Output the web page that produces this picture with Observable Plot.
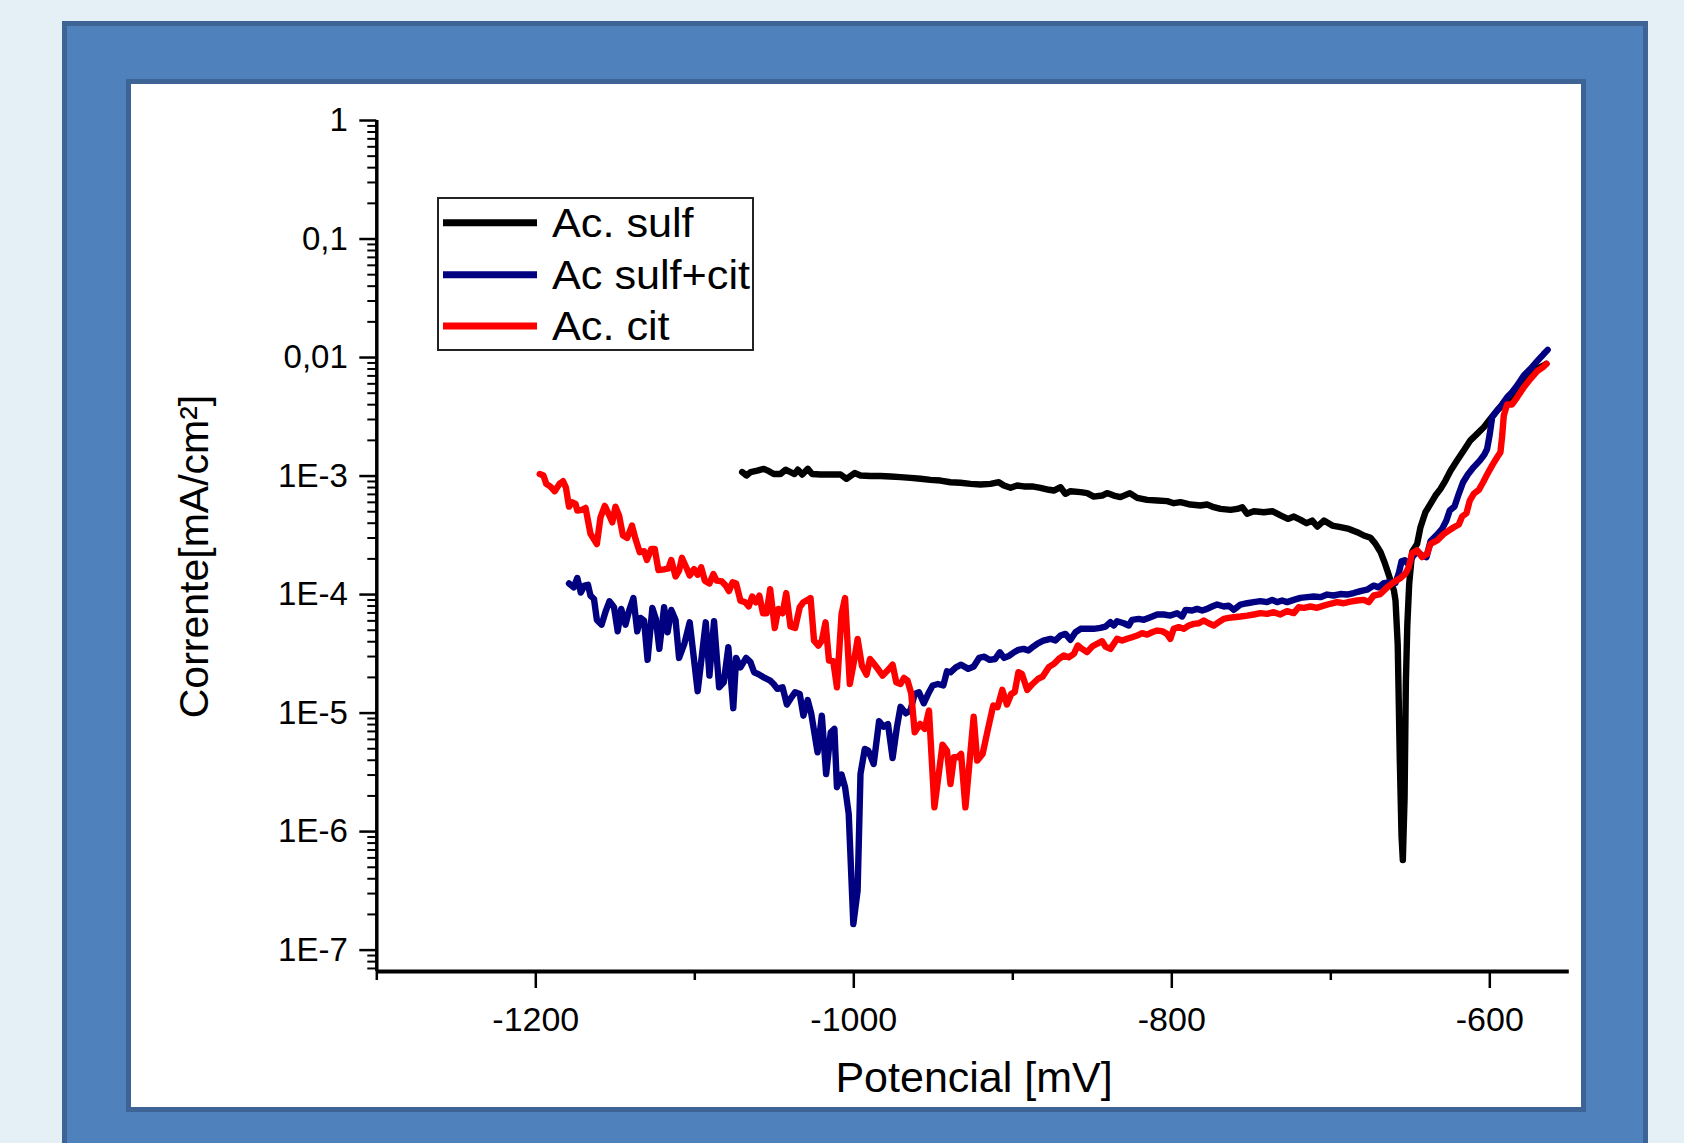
<!DOCTYPE html>
<html><head><meta charset="utf-8">
<script src="https://cdn.jsdelivr.net/npm/d3@7"></script>
<script src="https://cdn.jsdelivr.net/npm/@observablehq/plot@0.6"></script>
<style>
html,body{margin:0;padding:0;width:1684px;height:1143px;overflow:hidden;background:#e4f0f6;font-family:"Liberation Sans",Arial,sans-serif;}
#frame{position:absolute;left:62px;top:21px;width:1586px;height:1200px;box-sizing:border-box;background:#4f81bd;border:5px solid #3d6494;}
#panel{position:absolute;left:126px;top:79px;width:1460px;height:1033px;box-sizing:border-box;background:#fff;border:5px solid #3d6494;}
#chart{position:absolute;left:131px;top:84px;}
#legend{position:absolute;left:437px;top:197px;}
</style></head>
<body>
<div id="frame"></div>
<div id="panel"></div>
<div id="chart"></div>
<script>
// ---- data: potential [mV], current [mA/cm²] ----
const seriesNames = ["Ac. sulf", "Ac sulf+cit", "Ac. cit"];
const seriesColors = ["#000000", "#000080", "#ff0000"];

const acSulf = [[-1070.2,1.08e-3],[-1067.5,1.01e-3],[-1064.9,1.08e-3],[-1060.7,1.11e-3],[-1056.6,1.15e-3],[-1053.4,1.10e-3],[-1050.3,1.04e-3],[-1046.1,1.04e-3],[-1042.9,1.13e-3],[-1039.8,1.08e-3],[-1037.3,1.04e-3],[-1035.2,1.13e-3],[-1032.4,1.03e-3],[-1028.9,1.15e-3],[-1026.2,1.04e-3],[-1020.9,1.03e-3],[-1014.6,1.03e-3],[-1008.3,1.03e-3],[-1004.6,9.48e-4],[-999.5,1.06e-3],[-995.8,1.01e-3],[-989.5,1.00e-3],[-983.2,1.00e-3],[-976.9,9.91e-4],[-970.6,9.79e-4],[-964.3,9.66e-4],[-958.0,9.48e-4],[-951.8,9.29e-4],[-945.5,9.16e-4],[-939.2,8.87e-4],[-932.9,8.77e-4],[-926.6,8.59e-4],[-920.3,8.49e-4],[-914.0,8.59e-4],[-908.8,8.87e-4],[-905.6,8.32e-4],[-901.4,7.96e-4],[-897.3,8.32e-4],[-893.1,8.17e-4],[-887.8,8.17e-4],[-882.6,7.96e-4],[-877.3,7.66e-4],[-874.2,7.55e-4],[-870.0,8.05e-4],[-866.9,7.08e-4],[-863.7,7.45e-4],[-857.4,7.31e-4],[-853.2,7.18e-4],[-849.1,6.71e-4],[-843.8,6.85e-4],[-840.7,7.18e-4],[-836.5,6.85e-4],[-832.3,6.64e-4],[-826.4,7.18e-4],[-821.8,6.55e-4],[-815.5,6.30e-4],[-809.2,6.22e-4],[-802.9,6.14e-4],[-798.7,5.90e-4],[-794.5,6.03e-4],[-788.3,5.75e-4],[-782.0,5.64e-4],[-777.8,5.75e-4],[-773.6,5.46e-4],[-769.3,5.28e-4],[-763.0,5.18e-4],[-758.8,5.28e-4],[-755.7,5.46e-4],[-752.6,4.80e-4],[-748.4,5.05e-4],[-742.1,4.95e-4],[-736.8,5.05e-4],[-731.6,4.65e-4],[-727.0,4.35e-4],[-723.2,4.55e-4],[-719.0,4.27e-4],[-715.2,4.00e-4],[-711.7,4.21e-4],[-708.5,3.75e-4],[-704.3,4.21e-4],[-699.1,3.82e-4],[-693.9,3.70e-4],[-688.6,3.58e-4],[-683.4,3.36e-4],[-679.2,3.15e-4],[-675.0,3.01e-4],[-671.9,2.68e-4],[-668.7,2.28e-4],[-666.2,1.87e-4],[-664.1,1.54e-4],[-662.4,1.31e-4],[-660.3,1.08e-4],[-659.3,8.89e-5],[-657.9,3.76e-5],[-656.6,4.04e-6],[-655.5,9.12e-7],[-654.7,5.75e-7],[-653.6,1.92e-6],[-652.8,1.78e-5],[-651.9,5.44e-5],[-650.7,1.23e-4],[-648.8,2.30e-4],[-645.7,2.68e-4],[-643.6,3.70e-4],[-640.5,4.95e-4],[-637.3,5.82e-4],[-634.2,6.85e-4],[-631.0,7.80e-4],[-627.9,9.16e-4],[-624.7,1.11e-3],[-620.6,1.35e-3],[-616.4,1.64e-3],[-612.2,2.00e-3],[-608.0,2.27e-3],[-603.8,2.58e-3],[-599.6,3.04e-3],[-595.4,3.57e-3],[-591.2,4.06e-3],[-587.0,4.62e-3],[-582.8,5.33e-3],[-578.6,6.31e-3],[-574.4,7.28e-3],[-570.2,8.04e-3],[-566.1,8.57e-3],[-564.4,8.85e-3]];

const acSulfCit = [[-1179.1,1.24e-4],[-1176.2,1.15e-4],[-1173.9,1.38e-4],[-1171.7,1.04e-4],[-1169.4,1.19e-4],[-1167.2,1.21e-4],[-1165.6,9.79e-5],[-1163.4,9.18e-5],[-1161.6,6.11e-5],[-1158.6,5.57e-5],[-1155.9,7.33e-5],[-1153.7,8.77e-5],[-1150.8,7.82e-5],[-1148.5,4.90e-5],[-1146.3,7.57e-5],[-1143.6,5.57e-5],[-1141.3,7.33e-5],[-1138.6,9.35e-5],[-1136.2,4.90e-5],[-1134.2,6.35e-5],[-1131.9,6.03e-5],[-1129.7,2.81e-5],[-1126.7,7.71e-5],[-1124.5,6.22e-5],[-1122.3,3.48e-5],[-1119.3,7.82e-5],[-1117.1,4.81e-5],[-1114.8,7.41e-5],[-1112.1,6.11e-5],[-1109.9,2.92e-5],[-1106.5,3.88e-5],[-1103.2,5.83e-5],[-1098.2,1.53e-5],[-1093.1,5.83e-5],[-1090.8,2.07e-5],[-1087.9,5.96e-5],[-1084.7,1.65e-5],[-1081.8,1.82e-5],[-1078.9,3.59e-5],[-1075.8,1.10e-5],[-1074.0,2.92e-5],[-1071.3,2.43e-5],[-1067.7,2.92e-5],[-1065.0,2.69e-5],[-1062.7,2.21e-5],[-1059.4,2.11e-5],[-1056.0,1.98e-5],[-1052.6,1.88e-5],[-1050.4,1.76e-5],[-1048.1,1.60e-5],[-1044.8,1.65e-5],[-1042.1,1.18e-5],[-1039.2,1.36e-5],[-1036.9,1.50e-5],[-1034.0,1.45e-5],[-1031.7,9.51e-6],[-1029.0,1.29e-5],[-1026.8,9.95e-6],[-1022.8,4.67e-6],[-1020.1,9.51e-6],[-1017.4,3.06e-6],[-1014.5,6.89e-6],[-1012.2,7.35e-6],[-1010.6,2.37e-6],[-1007.7,3.03e-6],[-1005.5,2.37e-6],[-1003.2,1.41e-6],[-1000.3,1.66e-7],[-997.6,3.18e-7],[-995.8,3.06e-6],[-993.1,4.98e-6],[-990.9,4.82e-6],[-987.5,3.72e-6],[-984.1,8.53e-6],[-981.4,7.69e-6],[-978.5,8.09e-6],[-975.6,4.18e-6],[-972.9,7.59e-6],[-970.6,1.13e-5],[-967.3,9.95e-6],[-964.4,1.05e-5],[-961.7,1.45e-5],[-959.0,1.50e-5],[-956.0,1.21e-5],[-952.7,1.50e-5],[-950.4,1.71e-5],[-947.1,1.76e-5],[-943.7,1.71e-5],[-941.4,2.25e-5],[-939.2,2.21e-5],[-935.8,2.43e-5],[-932.5,2.56e-5],[-928.0,2.36e-5],[-924.6,2.47e-5],[-921.2,2.92e-5],[-917.9,2.99e-5],[-914.5,2.81e-5],[-911.1,2.86e-5],[-908.2,3.26e-5],[-905.5,2.92e-5],[-902.2,3.05e-5],[-899.2,3.26e-5],[-896.5,3.41e-5],[-893.2,3.48e-5],[-890.2,3.37e-5],[-887.1,3.64e-5],[-884.2,3.88e-5],[-880.8,4.08e-5],[-876.3,4.23e-5],[-873.2,4.09e-5],[-870.0,4.51e-5],[-866.9,4.66e-5],[-863.7,4.15e-5],[-860.6,4.81e-5],[-857.4,5.14e-5],[-853.3,5.14e-5],[-849.1,5.14e-5],[-844.9,5.24e-5],[-841.7,5.37e-5],[-838.6,5.85e-5],[-836.5,5.48e-5],[-834.4,5.96e-5],[-830.2,5.73e-5],[-827.1,5.48e-5],[-825.0,6.12e-5],[-820.8,6.24e-5],[-817.6,6.12e-5],[-813.4,6.44e-5],[-809.2,6.79e-5],[-805.0,6.79e-5],[-800.9,6.65e-5],[-796.7,6.97e-5],[-793.5,6.53e-5],[-791.4,7.43e-5],[-787.2,7.33e-5],[-784.1,7.57e-5],[-780.9,7.33e-5],[-777.8,7.57e-5],[-774.7,7.93e-5],[-771.5,8.24e-5],[-767.3,7.93e-5],[-764.2,8.07e-5],[-761.0,7.43e-5],[-756.8,8.24e-5],[-752.6,8.45e-5],[-748.5,8.63e-5],[-744.3,8.79e-5],[-740.1,8.63e-5],[-736.9,9.02e-5],[-733.8,8.63e-5],[-730.6,8.91e-5],[-727.5,8.63e-5],[-723.3,9.02e-5],[-719.1,9.38e-5],[-714.9,9.51e-5],[-710.7,9.62e-5],[-706.5,9.51e-5],[-702.3,1.00e-4],[-698.2,9.82e-5],[-694.0,1.01e-4],[-689.8,1.00e-4],[-685.6,1.03e-4],[-681.4,1.07e-4],[-677.2,1.10e-4],[-673.0,1.19e-4],[-669.9,1.15e-4],[-666.7,1.25e-4],[-662.5,1.27e-4],[-659.4,1.25e-4],[-657.3,1.50e-4],[-655.5,1.91e-4],[-653.5,1.95e-4],[-651.5,1.82e-4],[-648.5,2.09e-4],[-645.5,2.32e-4],[-642.6,2.13e-4],[-639.8,2.07e-4],[-637.3,2.82e-4],[-633.1,3.21e-4],[-630.0,3.58e-4],[-627.3,4.22e-4],[-625.2,5.12e-4],[-622.2,5.53e-4],[-619.5,7.08e-4],[-616.8,8.87e-4],[-613.8,1.03e-3],[-610.1,1.19e-3],[-606.3,1.35e-3],[-603.4,1.52e-3],[-601.7,1.69e-3],[-600.0,2.27e-3],[-598.5,3.14e-3],[-595.4,3.57e-3],[-592.3,4.02e-3],[-589.1,4.62e-3],[-586.0,5.11e-3],[-582.8,5.81e-3],[-578.6,7.05e-3],[-574.4,8.04e-3],[-570.2,9.31e-3],[-566.1,1.07e-2],[-563.6,1.16e-2]];

const acCit = [[-1197.5,1.04e-3],[-1195.2,1.01e-3],[-1193.4,8.59e-4],[-1190.8,8.15e-4],[-1188.1,7.45e-4],[-1185.1,8.59e-4],[-1182.9,9.04e-4],[-1181.1,8.04e-4],[-1179.1,5.52e-4],[-1177.3,6.01e-4],[-1175.0,5.82e-4],[-1173.9,5.11e-4],[-1171.0,5.18e-4],[-1168.7,5.38e-4],[-1165.6,3.25e-4],[-1161.6,2.67e-4],[-1159.3,4.49e-4],[-1156.6,5.60e-4],[-1154.4,4.85e-4],[-1151.9,4.07e-4],[-1149.9,5.52e-4],[-1147.6,4.63e-4],[-1145.2,3.15e-4],[-1142.5,3.01e-4],[-1139.5,3.82e-4],[-1137.3,2.94e-4],[-1134.6,2.28e-4],[-1131.9,2.32e-4],[-1130.1,1.96e-4],[-1127.4,2.43e-4],[-1125.2,2.43e-4],[-1122.9,1.61e-4],[-1119.3,1.63e-4],[-1116.6,1.66e-4],[-1114.8,1.96e-4],[-1112.1,1.42e-4],[-1109.9,1.59e-4],[-1108.1,2.04e-4],[-1105.4,1.70e-4],[-1103.2,1.45e-4],[-1100.5,1.64e-4],[-1098.2,1.47e-4],[-1096.0,1.70e-4],[-1093.7,1.31e-4],[-1090.8,1.24e-4],[-1088.3,1.49e-4],[-1086.3,1.31e-4],[-1083.0,1.29e-4],[-1080.3,1.18e-4],[-1078.5,1.07e-4],[-1076.2,1.27e-4],[-1074.0,1.24e-4],[-1071.3,8.89e-5],[-1068.3,8.61e-5],[-1066.1,7.96e-5],[-1063.9,9.62e-5],[-1061.6,8.61e-5],[-1059.4,9.79e-5],[-1057.1,6.95e-5],[-1054.9,6.95e-5],[-1052.6,1.11e-4],[-1049.7,5.22e-5],[-1047.5,7.57e-5],[-1044.8,6.95e-5],[-1042.5,1.03e-4],[-1039.8,5.37e-5],[-1036.9,5.22e-5],[-1034.0,7.82e-5],[-1031.7,8.61e-5],[-1029.0,9.02e-5],[-1027.2,9.35e-5],[-1025.0,4.08e-5],[-1022.3,3.71e-5],[-1020.1,4.08e-5],[-1017.8,5.83e-5],[-1015.6,2.77e-5],[-1012.9,2.74e-5],[-1010.6,1.65e-5],[-1007.7,6.85e-5],[-1005.5,9.35e-5],[-1002.5,1.76e-5],[-999.8,2.77e-5],[-997.6,4.22e-5],[-994.9,2.51e-5],[-992.0,2.11e-5],[-989.8,2.86e-5],[-987.5,2.63e-5],[-985.3,2.40e-5],[-981.9,2.07e-5],[-978.5,2.31e-5],[-975.6,2.56e-5],[-973.3,1.82e-5],[-970.6,1.76e-5],[-968.4,1.98e-5],[-966.2,1.88e-5],[-963.9,1.47e-5],[-961.7,6.89e-6],[-958.3,8.09e-6],[-955.4,7.35e-6],[-952.7,1.05e-5],[-949.3,1.60e-6],[-944.2,5.42e-6],[-941.4,4.82e-6],[-939.2,2.52e-6],[-937.0,4.24e-6],[-934.7,4.24e-6],[-932.5,4.52e-6],[-929.8,1.60e-6],[-924.6,9.33e-6],[-922.4,3.97e-6],[-919.0,4.52e-6],[-915.6,7.35e-6],[-912.3,1.16e-5],[-909.6,1.12e-5],[-906.6,1.57e-5],[-903.7,1.18e-5],[-901.0,1.45e-5],[-898.8,1.50e-5],[-896.5,2.21e-5],[-894.3,2.14e-5],[-890.9,1.57e-5],[-887.6,1.76e-5],[-884.2,1.94e-5],[-881.3,2.03e-5],[-877.4,2.44e-5],[-874.2,2.60e-5],[-871.1,2.86e-5],[-867.9,3.06e-5],[-864.8,2.96e-5],[-861.6,3.16e-5],[-859.1,3.72e-5],[-856.4,3.48e-5],[-853.3,3.27e-5],[-850.1,3.64e-5],[-847.0,3.84e-5],[-843.8,4.04e-5],[-841.7,3.64e-5],[-838.6,3.48e-5],[-834.4,4.23e-5],[-831.2,4.09e-5],[-828.1,4.23e-5],[-825.0,4.37e-5],[-821.8,4.51e-5],[-818.7,4.72e-5],[-815.5,4.60e-5],[-812.4,4.81e-5],[-809.2,4.97e-5],[-806.1,4.91e-5],[-803.0,4.66e-5],[-800.9,4.23e-5],[-798.8,5.14e-5],[-795.6,5.31e-5],[-792.5,5.14e-5],[-789.3,5.48e-5],[-786.2,5.66e-5],[-783.0,5.73e-5],[-779.9,6.04e-5],[-776.8,5.73e-5],[-773.6,5.48e-5],[-770.5,5.85e-5],[-767.3,6.24e-5],[-764.2,6.35e-5],[-761.0,6.44e-5],[-756.8,6.53e-5],[-752.6,6.65e-5],[-748.5,6.79e-5],[-744.3,6.97e-5],[-740.1,6.87e-5],[-735.9,7.10e-5],[-731.7,6.79e-5],[-727.5,7.24e-5],[-723.3,6.97e-5],[-720.2,7.82e-5],[-717.0,7.73e-5],[-712.8,7.93e-5],[-708.6,7.73e-5],[-704.4,8.07e-5],[-700.3,8.36e-5],[-696.1,8.63e-5],[-691.9,8.45e-5],[-687.7,8.73e-5],[-683.5,8.91e-5],[-679.3,9.02e-5],[-676.1,8.63e-5],[-673.0,9.82e-5],[-668.8,1.01e-4],[-664.6,1.15e-4],[-660.4,1.27e-4],[-656.2,1.38e-4],[-653.1,1.50e-4],[-651.0,1.70e-4],[-648.9,2.23e-4],[-645.7,2.36e-4],[-642.6,2.07e-4],[-639.5,2.20e-4],[-637.3,2.68e-4],[-633.1,2.86e-4],[-628.9,3.25e-4],[-625.8,3.47e-4],[-622.6,3.70e-4],[-619.5,3.90e-4],[-617.4,4.55e-4],[-614.7,4.85e-4],[-612.6,6.21e-4],[-610.1,7.08e-4],[-606.9,7.64e-4],[-604.2,8.87e-4],[-601.7,1.03e-3],[-598.5,1.23e-3],[-595.4,1.44e-3],[-593.3,1.59e-3],[-592.3,2.13e-3],[-591.2,3.24e-3],[-589.1,4.02e-3],[-586.0,4.02e-3],[-582.8,4.62e-3],[-578.6,5.62e-3],[-574.4,6.61e-3],[-570.2,7.67e-3],[-566.1,8.39e-3],[-564.4,8.85e-3]];

const xMajorTicks = [-1200, -1000, -800, -600];
const xMajorLabels = ["-1200", "-1000", "-800", "-600"];
const xMinorTicks = [-1300, -1100, -900, -700];
const yMajorTicks = [1, 0.1, 0.01, 1e-3, 1e-4, 1e-5, 1e-6, 1e-7];
const yMajorLabels = ["1", "0,1", "0,01", "1E-3", "1E-4", "1E-5", "1E-6", "1E-7"];
const xDomain = [-1300, -550];
const yDomain = [6.6e-8, 1];

// minor log ticks (2..9 per decade) inside the domain
const yMinorTicks = [];
for (let e = -8; e < 0; e++) for (let m = 2; m <= 9; m++) {
  const v = m * Math.pow(10, e);
  if (v >= yDomain[0] && v <= yDomain[1]) yMinorTicks.push(v);
}

const font = '"Liberation Sans", Arial, Helvetica, sans-serif';
const yLab = d => {
  const i = yMajorTicks.findIndex(v => Math.abs(Math.log10(v) - Math.log10(d)) < 1e-9);
  return i >= 0 ? yMajorLabels[i] : "";
};
const xLab = d => {
  const i = xMajorTicks.indexOf(d);
  return i >= 0 ? xMajorLabels[i] : "";
};

const series = [acSulf, acSulfCit, acCit];

const chart = Plot.plot({
  width: 1450,
  height: 1022,
  marginLeft: 245.3,
  marginRight: 12.2,
  marginTop: 36,
  marginBottom: 135,
  x: {domain: xDomain, axis: null},
  y: {type: "log", domain: yDomain, axis: null},
  style: {background: "transparent", fontFamily: font, color: "#000", overflow: "visible"},
  marks: [
    Plot.axisX({ticks: xMajorTicks, tickSize: 17, tickPadding: 18, fontSize: 34, strokeWidth: 2.5, tickFormat: xLab, label: null}),
    Plot.axisX({ticks: xMinorTicks, tickSize: 9, strokeWidth: 2.5, tickFormat: () => "", label: null}),
    Plot.axisY({ticks: yMajorTicks, tickSize: 17, tickPadding: 12, fontSize: 33, strokeWidth: 2.5, tickFormat: yLab, label: null}),
    Plot.axisY({ticks: yMinorTicks, tickSize: 9, strokeWidth: 2, tickFormat: () => "", label: null}),
    Plot.ruleX([xDomain[0]], {strokeWidth: 3.5}),
    Plot.ruleY([yDomain[0]], {strokeWidth: 4}),
    ...series.map((s, i) => Plot.line(s, {x: d => d[0], y: d => d[1], stroke: seriesColors[i], strokeWidth: 6.4})),
    Plot.text(["Potencial [mV]"], {frameAnchor: "bottom", dx: 1, dy: 106.7, fontSize: 43, textAnchor: "middle", lineAnchor: "middle"}),
    Plot.text(["Corrente[mA/cm²]"], {frameAnchor: "left", dx: -182, dy: 10.5, rotate: -90, fontSize: 41, textAnchor: "middle", lineAnchor: "middle"})
  ]
});
document.getElementById("chart").appendChild(chart);

// legend box inside the plot area
const legRows = [25.7, 77.7, 129];
const leg = d3.select("body").append("svg").attr("id", "legend")
  .attr("width", 318).attr("height", 156);
leg.append("rect").attr("x", 1).attr("y", 1).attr("width", 315).attr("height", 152)
  .attr("fill", "#fff").attr("stroke", "#222").attr("stroke-width", 2);
seriesNames.forEach((name, i) => {
  leg.append("line").attr("x1", 6).attr("x2", 100).attr("y1", legRows[i]).attr("y2", legRows[i])
    .attr("stroke", seriesColors[i]).attr("stroke-width", 7);
  leg.append("text").attr("transform", `translate(115,${legRows[i]}) scale(1.08,1)`).attr("dy", "0.36em")
    .attr("font-family", font).attr("font-size", 40).attr("fill", "#000").text(name);
});
</script>
</body></html>
